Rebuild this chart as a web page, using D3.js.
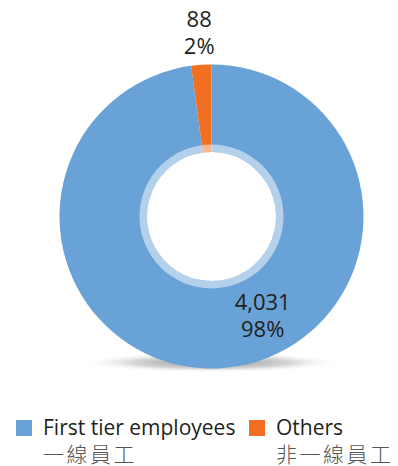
<!DOCTYPE html>
<html>
<head>
<meta charset="utf-8">
<script src="https://cdn.jsdelivr.net/npm/d3@7"></script>
<style>
  body { margin: 0; background: #fff; }
  svg text { font-family: 'Open Sans', 'Noto Sans', sans-serif; }
</style>
</head>
<body>
<div class="chart"></div>
<script>
const categories = ['First tier employees', 'Others'];
const categoriesZh = ['一線員工', '非一線員工'];
const values = [4031, 88];
const percents = ['98%', '2%'];
const colors = ['#68a2d6', '#f26f22'];

const width = 398,
  height = 466;
const cx = 211.5,
  cy = 216.5;
const outerR = 152,
  innerR = 64.5,
  ringR = 72;

const svg = d3
  .select('.chart')
  .append('svg')
  .attr('width', width)
  .attr('height', height);

// shadow under the donut
const defs = svg.append('defs');
const grad = defs
  .append('radialGradient')
  .attr('id', 'shadow')
  .attr('cx', '50%')
  .attr('cy', '50%')
  .attr('r', '50%');
grad.append('stop').attr('offset', '0%').attr('stop-color', '#777').attr('stop-opacity', 0.9);
grad.append('stop').attr('offset', '60%').attr('stop-color', '#aaa').attr('stop-opacity', 0.5);
grad.append('stop').attr('offset', '100%').attr('stop-color', '#fff').attr('stop-opacity', 0);

svg
  .append('ellipse')
  .attr('cx', cx)
  .attr('cy', cy + outerR - 6)
  .attr('rx', 130)
  .attr('ry', 10)
  .attr('fill', 'url(#shadow)');

const g = svg.append('g').attr('transform', `translate(${cx},${cy})`);

const pie = d3.pie().sort(null).value((d) => d);
const arcs = pie(values);
const arc = d3.arc().innerRadius(innerR).outerRadius(outerR);

g.selectAll('.slice')
  .data(arcs)
  .enter()
  .append('path')
  .attr('class', 'slice')
  .attr('d', arc)
  .attr('fill', (d, i) => colors[i]);

// translucent inner ring
g.append('path')
  .attr('d', d3.arc().innerRadius(innerR).outerRadius(ringR).startAngle(0).endAngle(2 * Math.PI)())
  .attr('fill', '#fff')
  .attr('opacity', 0.5);

// labels: big slice label sits inside lower right, small one above
const labelArcs = [
  d3.arc().innerRadius(112).outerRadius(112),
  d3.arc().innerRadius(183.5).outerRadius(183.5)
];
const labelAngles = [2.667, null];
arcs.forEach((d, i) => {
  const a = labelAngles[i] != null ? { startAngle: labelAngles[i], endAngle: labelAngles[i] } : d;
  const p = labelArcs[i].centroid(a);
  const t = g
    .append('text')
    .attr('text-anchor', 'middle')
    .attr('fill', '#231f20')
    .style('font-size', '22px');
  t.append('tspan').attr('x', p[0]).attr('y', p[1] - 6).text(d3.format(',')(values[i]));
  t.append('tspan').attr('x', p[0]).attr('y', p[1] + 21).text(percents[i]);
});

// legend
const legendX = [16, 249];
const legend = svg
  .selectAll('.legend')
  .data(categories)
  .enter()
  .append('g')
  .attr('class', 'legend')
  .attr('transform', (d, i) => `translate(${legendX[i]},420)`);
legend
  .append('rect')
  .attr('width', 16)
  .attr('height', 16)
  .attr('fill', (d, i) => colors[i]);
legend
  .append('text')
  .attr('x', 27)
  .attr('y', 15)
  .attr('fill', '#231f20')
  .style('font-size', '21px')
  .text((d) => d);
legend
  .append('text')
  .attr('x', 27)
  .attr('y', 41.5)
  .attr('fill', '#555')
  .style('font-family', "'Noto Sans CJK TC', sans-serif")
  .style('font-size', '21px')
  .style('font-weight', 300)
  .style('letter-spacing', '2.5px')
  .text((d, i) => categoriesZh[i]);
</script>
</body>
</html>
